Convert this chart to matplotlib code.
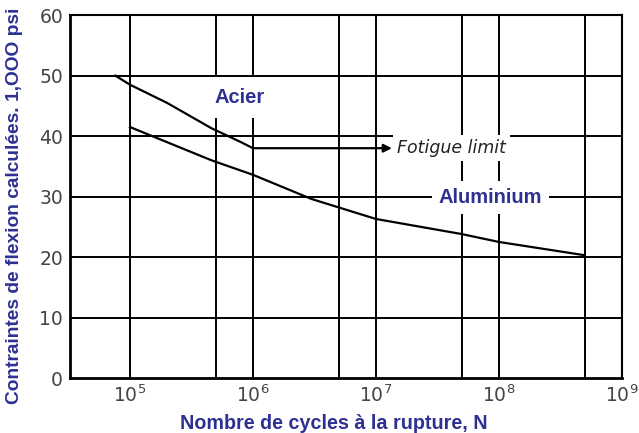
import matplotlib.pyplot as plt
import numpy as np

# Données
acier_n = [7.6e4, 1e5, 2e5, 4.6e5, 8e5, 1e6]
acier_s = [50.0, 48.5, 45.5, 41.3, 39.0, 38.0]
limite_fin = 1.35e7

alu_n = [1e5, 2e5, 4.6e5, 1e6, 3e6, 1e7, 5e7, 1e8, 5e8]
alu_s = [41.5, 39.0, 36.0, 33.6, 29.6, 26.3, 23.8, 22.5, 20.3]

grille_x = [1e5, 5e5, 1e6, 5e6, 1e7, 5e7, 1e8, 5e8]
ticks_x = [1e5, 1e6, 1e7, 1e8, 1e9]
ticks_y = [0, 10, 20, 30, 40, 50, 60]

bleu = '#2E3192'
gris = '#444444'

fig = plt.figure(figsize=(6.39, 4.33), dpi=100)
ax = fig.add_axes([0.1095, 0.127, 0.8635, 0.838])

ax.set_xscale('log')
ax.set_xlim(3.25e4, 1e9)
ax.set_ylim(0, 60)

# Grille
for gx in grille_x:
    ax.axvline(gx, color='black', lw=1.4, zorder=1)
for gy in ticks_y[1:-1]:
    ax.axhline(gy, color='black', lw=1.4, zorder=1)

# Courbes
ax.plot(acier_n, acier_s, color='black', lw=1.6, zorder=3)
ax.plot(alu_n, alu_s, color='black', lw=1.6, zorder=3)
ax.annotate('', xy=(limite_fin, 38.0), xytext=(acier_n[-1], 38.0),
            arrowprops=dict(arrowstyle='-|>', color='black', lw=1.6,
                            shrinkA=0, shrinkB=0, mutation_scale=12),
            zorder=3)
ax.text(limite_fin * 1.1, 38.0, 'Fotigue limit', style='italic',
        fontsize=12.5, color='#222222', va='center', ha='left',
        bbox=dict(facecolor='white', edgecolor='none', pad=3), zorder=2)

# Étiquettes des courbes
ax.text(7.8e5, 46.4, 'Acier', fontsize=14.5, fontweight='bold',
        family='Liberation Sans', color=bleu, ha='center', va='center',
        bbox=dict(facecolor='white', edgecolor='none', pad=8), zorder=2)
ax.text(8.5e7, 29.8, 'Aluminium', fontsize=14.5, fontweight='bold',
        family='Liberation Sans', color=bleu, ha='center', va='center',
        bbox=dict(facecolor='white', edgecolor='none', pad=5), zorder=2)

# Axes
ax.set_xticks(ticks_x)
ax.set_xticklabels([r'$10^{%d}$' % int(np.log10(t)) for t in ticks_x])
ax.set_yticks(ticks_y)
ax.minorticks_off()
ax.tick_params(length=0, labelsize=13.5, labelcolor=gris, pad=5)

for side in ['left', 'bottom']:
    ax.spines[side].set_linewidth(2.0)
for side in ['top', 'right']:
    ax.spines[side].set_linewidth(1.5)

ax.set_xlabel('Nombre de cycles à la rupture, N', fontsize=14.2,
              fontweight='bold', family='Liberation Sans', color=bleu)
ax.xaxis.set_label_coords(0.478, -0.1)
ax.set_ylabel('Contraintes de flexion calculées. 1,OOO psi', fontsize=13.8,
              fontweight='bold', family='Liberation Sans', color=bleu)
ax.yaxis.set_label_coords(-0.085, 0.474)

plt.savefig('out.png', dpi=100)
